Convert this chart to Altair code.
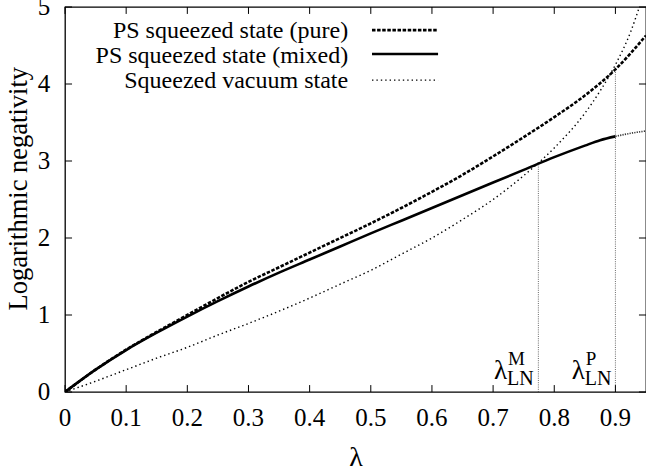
import altair as alt
import pandas as pd

# ---------------- data ----------------
lam_pure = [0, 0.05, 0.1, 0.15, 0.2, 0.25, 0.3, 0.35, 0.4, 0.45, 0.5, 0.55,
            0.6, 0.65, 0.7, 0.75, 0.8, 0.85, 0.875, 0.9, 0.925, 0.95]
ln_pure = [0, 0.29, 0.55, 0.78, 1.00, 1.22, 1.43, 1.62, 1.81, 2.00, 2.19, 2.39,
           2.60, 2.82, 3.06, 3.31, 3.57, 3.85, 4.01, 4.19, 4.40, 4.63]

lam_mixed = [0, 0.05, 0.1, 0.15, 0.2, 0.25, 0.3, 0.35, 0.4, 0.45, 0.5, 0.55,
             0.6, 0.65, 0.7, 0.75, 0.8, 0.85, 0.875, 0.9]
ln_mixed = [0, 0.29, 0.545, 0.77, 0.98, 1.18, 1.37, 1.55, 1.72, 1.89, 2.06, 2.225,
            2.39, 2.555, 2.72, 2.885, 3.05, 3.20, 3.27, 3.32]

lam_mixed_ext = [0.9, 0.925, 0.95]
ln_mixed_ext = [3.32, 3.36, 3.39]

lam_vac = [0, 0.05, 0.1, 0.15, 0.2, 0.25, 0.3, 0.35, 0.4, 0.45, 0.5, 0.55,
           0.6, 0.65, 0.7, 0.75, 0.8, 0.85, 0.875, 0.9, 0.925, 0.94]
ln_vac = [0, 0.14, 0.29, 0.44, 0.58, 0.74, 0.89, 1.05, 1.22, 1.40, 1.58, 1.79,
          2.00, 2.24, 2.50, 2.81, 3.17, 3.62, 3.91, 4.25, 4.68, 5.02]

# threshold markers
marker_lam = [0.774, 0.9]
marker_ln = [2.97, 4.19]
marker_sup = ["M", "P"]
marker_text_x = [0.7227, 0.850]

legend_labels = ["PS squeezed state (pure)", "PS squeezed state (mixed)", "Squeezed vacuum state"]
legend_text_y = [4.60, 4.27, 3.95]
legend_line_y = [4.70, 4.39, 4.05]

x_ticks = [0, 0.1, 0.2, 0.3, 0.4, 0.5, 0.6, 0.7, 0.8, 0.9]
x_tick_labels = ["0", "0.1", "0.2", "0.3", "0.4", "0.5", "0.6", "0.7", "0.8", "0.9"]
y_ticks = [0, 1, 2, 3, 4, 5]
y_tick_labels = ["0", "1", "2", "3", "4", "5"]
x_title = "λ"
y_title = "Logarithmic negativity"

FONT = "Liberation Serif"
X_MIN, X_MAX, Y_MIN, Y_MAX = 0, 0.95, 0, 5
xs = alt.Scale(domain=[X_MIN, X_MAX], nice=False, zero=False)
ys = alt.Scale(domain=[Y_MIN, Y_MAX], nice=False, zero=False)

df_pure = pd.DataFrame({"lam": lam_pure, "ln": ln_pure})
df_mixed = pd.DataFrame({"lam": lam_mixed, "ln": ln_mixed})
df_ext = pd.DataFrame({"lam": lam_mixed_ext, "ln": ln_mixed_ext})
df_vac = pd.DataFrame({"lam": lam_vac, "ln": ln_vac})
df_mark = pd.DataFrame({"lam": marker_lam, "ln": marker_ln, "zero": [0, 0],
                        "sup": marker_sup, "tx": marker_text_x,
                        "y_lam": [0.17, 0.17], "y_sup": [0.35, 0.35], "y_sub": [0.09, 0.09]})


def X(f):
    return alt.X(f, type="quantitative", scale=xs, axis=None)


def Y(f):
    return alt.Y(f, type="quantitative", scale=ys, axis=None)


vac = alt.Chart(df_vac).mark_line(
    color="black", strokeWidth=1.4, strokeDash=[1.4, 3.0], interpolate="monotone", clip=True
).encode(x=X("lam"), y=Y("ln"))

pure = alt.Chart(df_pure).mark_line(
    color="black", strokeWidth=2.6, strokeDash=[3.5, 1.6], interpolate="monotone", clip=True
).encode(x=X("lam"), y=Y("ln"))

mixed = alt.Chart(df_mixed).mark_line(
    color="black", strokeWidth=2.6, interpolate="monotone", clip=True
).encode(x=X("lam"), y=Y("ln"))

ext = alt.Chart(df_ext).mark_line(
    color="#333333", strokeWidth=1.6, strokeDash=[1.2, 1.2], interpolate="monotone", clip=True
).encode(x=X("lam"), y=Y("ln"))

vlines = alt.Chart(df_mark).mark_rule(
    color="#444444", strokeWidth=0.8, strokeDash=[1, 1.2]
).encode(x=X("lam"), y=Y("zero"), y2=alt.Y2("ln"))

lam_txt = alt.Chart(df_mark).mark_text(
    text="λ", font=FONT, fontSize=27, align="right", baseline="alphabetic", color="black"
).encode(x=X("tx"), y=Y("y_lam"))

sup_txt = alt.Chart(df_mark).mark_text(
    font=FONT, fontSize=19, align="left", baseline="alphabetic", color="black", dx=1
).encode(x=X("tx"), y=Y("y_sup"), text="sup:N")

sub_txt = alt.Chart(df_mark).mark_text(
    text="LN", font=FONT, fontSize=20, align="left", baseline="alphabetic", color="black"
).encode(x=X("tx"), y=Y("y_sub"))

# legend (inside the plot, top left)
df_leg = pd.DataFrame({"label": legend_labels, "ty": legend_text_y, "ly": legend_line_y,
                       "tx": [0.463] * 3, "lx0": [0.502] * 3, "lx1": [0.61] * 3})
leg_text = alt.Chart(df_leg).mark_text(
    font=FONT, fontSize=24, align="right", baseline="alphabetic", color="black"
).encode(x=X("tx"), y=Y("ty"), text="label:N")

leg_styles = [dict(strokeWidth=2.6, strokeDash=[3.5, 1.6]), dict(strokeWidth=2.6),
              dict(strokeWidth=1.4, strokeDash=[1.4, 3.0])]
leg_lines = []
for i, st in enumerate(leg_styles):
    leg_lines.append(
        alt.Chart(df_leg.iloc[[i]]).mark_rule(color="black", **st).encode(
            x=X("lx0"), x2=alt.X2("lx1"), y=Y("ly"))
    )

# inward ticks on all four sides
TX = 0.09      # tick length in y units
TXX = 0.0115   # tick length in x units
df_xt = pd.DataFrame({"v": x_ticks, "lab": x_tick_labels,
                      "b0": [Y_MIN] * len(x_ticks), "b1": [Y_MIN + TX] * len(x_ticks),
                      "t0": [Y_MAX] * len(x_ticks), "t1": [Y_MAX - TX] * len(x_ticks),
                      "ly": [-0.34] * len(x_ticks)})
df_yt = pd.DataFrame({"v": y_ticks, "lab": y_tick_labels,
                      "l0": [X_MIN] * len(y_ticks), "l1": [X_MIN + TXX] * len(y_ticks),
                      "r0": [X_MAX] * len(y_ticks), "r1": [X_MAX - TXX] * len(y_ticks),
                      "lx": [-0.024] * len(y_ticks)})
tick_bottom = alt.Chart(df_xt).mark_rule(color="black", strokeWidth=1).encode(
    x=X("v"), y=Y("b0"), y2=alt.Y2("b1"))
tick_top = alt.Chart(df_xt).mark_rule(color="black", strokeWidth=1).encode(
    x=X("v"), y=Y("t0"), y2=alt.Y2("t1"))
tick_left = alt.Chart(df_yt).mark_rule(color="black", strokeWidth=1).encode(
    y=Y("v"), x=X("l0"), x2=alt.X2("l1"))
tick_right = alt.Chart(df_yt).mark_rule(color="black", strokeWidth=1).encode(
    y=Y("v"), x=X("r0"), x2=alt.X2("r1"))

# tick labels and axis titles (drawn as text at scale positions)
x_labels = alt.Chart(df_xt).mark_text(
    font=FONT, fontSize=25, align="center", baseline="middle", color="black"
).encode(x=X("v"), y=Y("ly"), text="lab:N")
y_labels = alt.Chart(df_yt).mark_text(
    font=FONT, fontSize=25, align="right", baseline="middle", color="black"
).encode(x=X("lx"), y=Y("v"), text="lab:N")

df_titles = pd.DataFrame({"t": [x_title, y_title], "tx": [0.476, -0.076],
                          "ty": [-0.86, 2.64]})
x_title_m = alt.Chart(df_titles.iloc[[0]]).mark_text(
    font=FONT, fontSize=28, align="center", baseline="middle", color="black"
).encode(x=X("tx"), y=Y("ty"), text="t:N")
y_title_m = alt.Chart(df_titles.iloc[[1]]).mark_text(
    font=FONT, fontSize=26.5, align="center", baseline="middle", color="black", angle=270
).encode(x=X("tx"), y=Y("ty"), text="t:N")

chart = alt.layer(
    vac, pure, mixed, ext, vlines, lam_txt, sup_txt, sub_txt, leg_text, *leg_lines,
    tick_bottom, tick_top, tick_left, tick_right, x_labels, y_labels, x_title_m, y_title_m
).properties(
    width=581, height=385,
    padding={"left": 65, "top": 7, "right": 0, "bottom": 82},
    autosize=alt.AutoSizeParams(type="none"),
    background="white",
).configure_view(
    stroke="black", strokeWidth=1.3
)

chart.save("out.html", embed_options={"renderer": "svg", "actions": False})
